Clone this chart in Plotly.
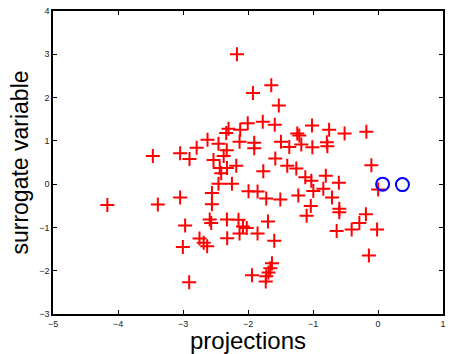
import plotly.graph_objects as go

# surrogate variable vs projections (red '+' points)
proj_x = [-2.170, -1.642, -1.924, -1.526, -2.004, -1.773, -1.588, -2.300, -2.335, -2.120,
          -2.130, -2.623, -2.454, -2.790, -3.044, -2.900, -3.464, -1.904, -1.904, -2.327,
          -2.374, -2.531, -2.435, -2.412, -2.181, -2.324, -1.765, -1.580, -1.493, -1.365,
          -1.242, -1.211, -1.396, -1.257, -1.015, -0.752, -0.514, -0.179, -1.180, -1.010,
          -0.787, -0.779, -0.102, -1.118, -1.026, -0.803, -0.602, -2.454, -2.247, -3.044,
          -2.555, -2.555, -1.992, -1.853, -1.719, -1.503, -1.226, -0.995, -0.841, -0.707,
          -1.034, -1.098, -0.595, -0.595, 0.003, -0.186, -0.287, -0.405, -0.636, -0.014,
          -0.140, -4.164, -3.387, -2.967, -2.589, -2.566, -2.324, -2.146, -2.078, -2.019,
          -2.130, -1.853, -1.693, -1.596, -2.320, -2.746, -2.682, -2.628, -3.002, -2.905,
          -1.939, -1.631, -1.657, -1.684, -1.719, -1.727]
surr_y = [3.000, 2.284, 2.107, 1.818, 1.409, 1.439, 1.370, 1.280, 1.182, 1.257,
          0.977, 1.023, 0.932, 0.841, 0.716, 0.580, 0.652, 0.955, 0.830, 0.784,
          0.652, 0.557, 0.375, 0.250, 0.425, 0.375, 0.295, 0.591, 0.977, 0.859,
          1.170, 1.125, 0.425, 0.364, 1.352, 1.257, 1.170, 1.211, 0.916, 0.852,
          0.966, 0.875, 0.439, 0.159, 0.080, 0.193, 0.034, 0.007, 0.007, -0.307,
          -0.205, -0.466, -0.166, -0.170, -0.334, -0.357, -0.261, -0.159, -0.107, -0.311,
          -0.505, -0.732, -0.568, -0.648, -0.125, -0.693, -0.898, -1.045, -1.080, -1.045,
          -1.648, -0.484, -0.470, -0.955, -0.818, -0.898, -0.818, -0.825, -0.977, -1.016,
          -1.143, -1.143, -0.864, -1.307, -1.250, -1.257, -1.352, -1.432, -1.455, -2.266,
          -2.102, -1.830, -1.943, -2.039, -2.130, -2.250]

# blue circles
circ_x = [0.071, 0.376]
circ_y = [0.000, -0.011]

x_ticks = [-5, -4, -3, -2, -1, 0, 1]
y_ticks = [-3, -2, -1, 0, 1, 2, 3, 4]

FONT = "Liberation Sans, Arial, sans-serif"

fig = go.Figure()
fig.add_trace(go.Scatter(
    x=proj_x, y=surr_y, mode="markers",
    marker=dict(symbol="cross-thin", size=10, line=dict(color="#ff0000", width=2), color="#ff0000"),
    showlegend=False, hoverinfo="skip"))
fig.add_trace(go.Scatter(
    x=circ_x, y=circ_y, mode="markers",
    marker=dict(symbol="circle-open", size=13, line=dict(color="#0000ff", width=2), color="#0000ff"),
    showlegend=False, hoverinfo="skip"))

axis_common = dict(
    showline=True, linecolor="#000000", linewidth=1.5, mirror="ticks",
    ticks="inside", ticklen=4, tickwidth=1, tickcolor="#000000",
    showgrid=False, zeroline=False,
    tickfont=dict(family=FONT, size=9, color="#222222"),
)

fig.update_xaxes(range=[-5, 1], tickvals=x_ticks, **axis_common,
                 title=dict(text="projections", standoff=2,
                            font=dict(family=FONT, size=24, color="#000000")))
fig.update_yaxes(range=[-3, 4], tickvals=y_ticks, **axis_common,
                 title=dict(text="surrogate variable", standoff=4,
                            font=dict(family=FONT, size=23, color="#000000")))

fig.update_layout(
    width=454, height=354,
    margin=dict(l=53, r=11, t=6, b=40),
    paper_bgcolor="#ffffff", plot_bgcolor="#ffffff",
)

fig.write_html("out.html")
